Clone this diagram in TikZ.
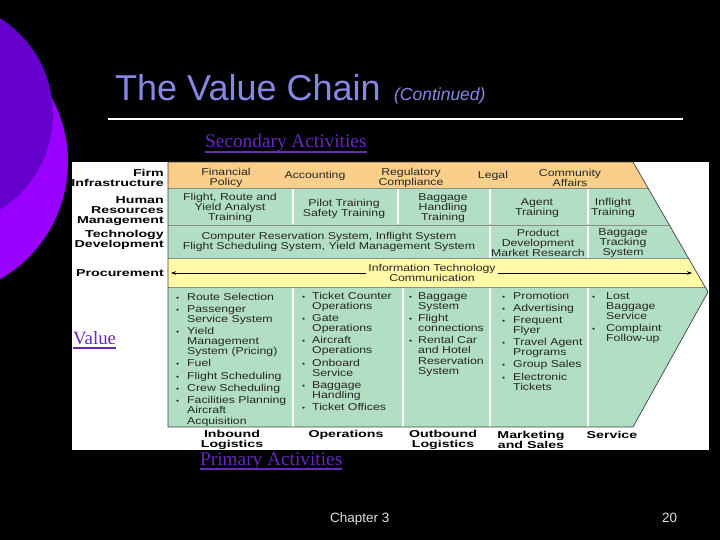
\documentclass[tikz,border=0pt]{standalone}
\usepackage{fontspec}
\setmainfont{Liberation Sans}
\newfontfamily\chartfont[FakeStretch=1.23]{Liberation Sans}
\newfontfamily\labelfont[FakeStretch=1.42]{Liberation Sans}
\newfontfamily\linkfont{Liberation Serif}
\usetikzlibrary{positioning,arrows.meta}
\tikzset{>={Stealth[length=5pt,width=3.5pt]}}

\definecolor{titleblue}{RGB}{135,135,230}
\definecolor{linkpurple}{RGB}{102,40,190}
\definecolor{deeppurple}{RGB}{102,0,204}
\definecolor{brightpurple}{RGB}{153,0,255}
\definecolor{infraorange}{RGB}{249,207,138}
\definecolor{supportgreen}{RGB}{178,222,196}
\definecolor{procyellow}{RGB}{255,250,165}
\definecolor{footgray}{RGB}{222,222,222}

\newcommand{\pbul}{{\fontsize{7}{7}\selectfont\textbullet}}
\newcommand{\gapsz}{2pt}

\begin{document}
\begin{tikzpicture}[
    x=1pt, y=-1pt,
    chart/.style={font={\chartfont\fontsize{10}{10}\selectfont}, text=black!85, inner sep=0pt, align=center},
    plist/.style={font={\chartfont\fontsize{10}{10}\selectfont}, text=black!85, inner sep=0pt, anchor=base west},
    sidelabel/.style={font={\labelfont\bfseries\fontsize{10}{10}\selectfont}, text=black, inner sep=0pt, align=right, anchor=east},
    primlabel/.style={font={\labelfont\bfseries\fontsize{10}{10}\selectfont}, text=black, inner sep=0pt, align=center},
    divider/.style={white, line width=1.1pt},
    rowline/.style={black!45, line width=0.6pt},
    chevline/.style={black!75, line width=0.7pt},
    itarrow/.style={->, black, line width=0.6pt},
    linktext/.style={font={\linkfont\fontsize{19.3}{20}\selectfont}, text=linkpurple, inner sep=0pt, anchor=base west},
    uline/.style={linkpurple, line width=1.6pt},
    foot/.style={font={\fontsize{13.5}{14}\selectfont}, text=footgray, inner sep=0pt, anchor=base west}
]

\useasboundingbox (0,0) rectangle (720,540);
\clip (0,0) rectangle (720,540);

% ------------------------------------------------------------
% Slide background
% ------------------------------------------------------------

\fill[black] (0,0) rectangle (720,540);
\fill[brightpurple] (-67,162) circle (135pt);
\fill[deeppurple] (-60,114) circle (113pt);

% Title and rule
\node[anchor=base west, inner sep=0pt, text=titleblue, font={\fontsize{36}{36}\selectfont}] (title) at (115,101) {The Value Chain};
\node[base right=13pt of title, inner sep=0pt, text=titleblue, font={\itshape\fontsize{17.5}{17.5}\selectfont}] (cont) {(Continued)};
\draw[white, line width=1.7pt] (108,119) -- (683,119);

\node[linktext] (secact) at (205,148) {Secondary Activities};
\draw[uline] ([yshift=-4pt]secact.base west) -- ([yshift=-4pt]secact.base east);

% ------------------------------------------------------------
% Value chain chart
% ------------------------------------------------------------

\fill[white] (72,162) rectangle (709,450);

% Chevron corners
\coordinate (cTL) at (168,162);
\coordinate (cTR) at (633,162);
\coordinate (cTip) at (708,292);
\coordinate (cBR) at (633,427);
\coordinate (cBL) at (168,427);

\begin{scope}
  \clip (cTL) -- (cTR) -- (cTip) -- (cBR) -- (cBL) -- cycle;
  \fill[infraorange] (168,162) rectangle (720,188);
  \fill[supportgreen] (168,188) rectangle (720,258);
  \fill[procyellow] (168,258) rectangle (720,287);
  \fill[supportgreen] (168,287) rectangle (720,427);

  % row borders
  \draw[rowline] (168,188) -- (720,188);
  \draw[rowline] (168,225) -- (720,225);
  \draw[rowline] (168,258) -- (720,258);
  \draw[rowline] (168,287) -- (720,287);

  % column dividers
  \foreach \cx in {293,398,490,588}
    \draw[divider] (\cx,189) -- (\cx,224.5);
  \foreach \cx in {490,588}
    \draw[divider] (\cx,226) -- (\cx,257.5);
  \foreach \cx in {293,403,490,588}
    \draw[divider] (\cx,288) -- (\cx,426.5);
\end{scope}

\draw[chevline] (cTL) -- (cTR) -- (cTip) -- (cBR) -- (cBL) -- cycle;

% Support activity labels
\node[sidelabel] (firm) at (164,177.5) {Firm\\Infrastructure};
\node[sidelabel] (hrm) at (164,211) {Human\\Resources\\Management};
\node[sidelabel] (techdev) at (164,240) {Technology\\Development};
\node[sidelabel] (proc) at (164,273) {Procurement};

% Firm infrastructure row
\node[chart] (finpol) at (226,177.5) {Financial\\Policy};
\node[chart] (acct) at (315,176) {Accounting};
\node[chart] (regcomp) at (411,177.5) {Regulatory\\Compliance};
\node[chart] (legal) at (493,176) {Legal};
\node[chart] (commaff) at (570,177.5) {Community\\Affairs};

% Human resources row
\node[chart] (hrflight) at (230,208) {Flight, Route and\\Yield Analyst\\Training};
\node[chart] (hrpilot) at (344,208.5) {Pilot Training\\Safety Training};
\node[chart] (hrbag) at (443,208.5) {Baggage\\Handling\\Training};
\node[chart] (hragent) at (537,208.5) {Agent\\Training};
\node[chart] (hrinfl) at (613,207.5) {Inflight\\Training};

% Technology row
\node[chart] (tcrs) at (329,242) {Computer Reservation System, Inflight System\\Flight Scheduling System, Yield Management System};
\node[chart] (tprod) at (538,243) {Product\\Development\\Market Research};
\node[chart] (tbag) at (623,243) {Baggage\\Tracking\\System};

% Procurement row
\coordinate (procL) at (171,273);
\coordinate (procR) at (692,273);
\node[chart, inner xsep=2pt] (itcomm) at (432,273) {Information Technology\\Communication};
\draw[itarrow] (itcomm.west) -- (procL);
\draw[itarrow] (itcomm.east) -- (procR);

% Primary activity lists
\node[plist] (inblist) at (176,300) {\begin{tabular}[t]{@{}p{11pt}@{}l@{}}
\pbul & Route Selection\\[\gapsz]
\pbul & Passenger\\
      & Service System\\[\gapsz]
\pbul & Yield\\
      & Management\\
      & System (Pricing)\\[\gapsz]
\pbul & Fuel\\[\gapsz]
\pbul & Flight Scheduling\\[\gapsz]
\pbul & Crew Scheduling\\[\gapsz]
\pbul & Facilities Planning\\
      & Aircraft\\
      & Acquisition
\end{tabular}};

\node[plist] (oplist) at (302,299) {\begin{tabular}[t]{@{}p{10pt}@{}l@{}}
\pbul & Ticket Counter\\
      & Operations\\[\gapsz]
\pbul & Gate\\
      & Operations\\[\gapsz]
\pbul & Aircraft\\
      & Operations\\[\gapsz]
\pbul & Onboard\\
      & Service\\[\gapsz]
\pbul & Baggage\\
      & Handling\\[\gapsz]
\pbul & Ticket Offices
\end{tabular}};

\node[plist] (outlist) at (409,299) {\begin{tabular}[t]{@{}p{9pt}@{}l@{}}
\pbul & Baggage\\
      & System\\[\gapsz]
\pbul & Flight\\
      & connections\\[\gapsz]
\pbul & Rental Car\\
      & and Hotel\\
      & Reservation\\
      & System
\end{tabular}};

\node[plist] (mktlist) at (502,299) {\begin{tabular}[t]{@{}p{11pt}@{}l@{}}
\pbul & Promotion\\[\gapsz]
\pbul & Advertising\\[\gapsz]
\pbul & Frequent\\
      & Flyer\\[\gapsz]
\pbul & Travel Agent\\
      & Programs\\[\gapsz]
\pbul & Group Sales\\[\gapsz]
\pbul & Electronic\\
      & Tickets
\end{tabular}};

\node[plist] (svclist) at (592,299) {\begin{tabular}[t]{@{}p{14pt}@{}l@{}}
\pbul & Lost\\
      & Baggage\\
      & Service\\[\gapsz]
\pbul & Complaint\\
      & Follow-up
\end{tabular}};

% Primary activity labels
\node[primlabel] (inbound) at (232,440) {Inbound\\Logistics};
\node[primlabel] (operations) at (346,435) {Operations};
\node[primlabel] (outbound) at (443,440) {Outbound\\Logistics};
\node[primlabel] (marketing) at (531,440) {Marketing\\and Sales};
\node[primlabel] (service) at (612,435) {Service};

% ------------------------------------------------------------
% Side captions and footer
% ------------------------------------------------------------

\node[linktext, font={\linkfont\fontsize{18.8}{20}\selectfont}] (valuelab) at (73,344) {Value};
\draw[uline] ([yshift=-4pt]valuelab.base west) -- ([yshift=-4pt]valuelab.base east);

\node[linktext] (primact) at (200,465) {Primary Activities};
\draw[uline] ([yshift=-4pt]primact.base west) -- ([yshift=-4pt]primact.base east);

\node[foot] (chapter) at (330,522) {Chapter 3};
\node[foot] (pagenum) at (662,522) {20};

\end{tikzpicture}
\end{document}
